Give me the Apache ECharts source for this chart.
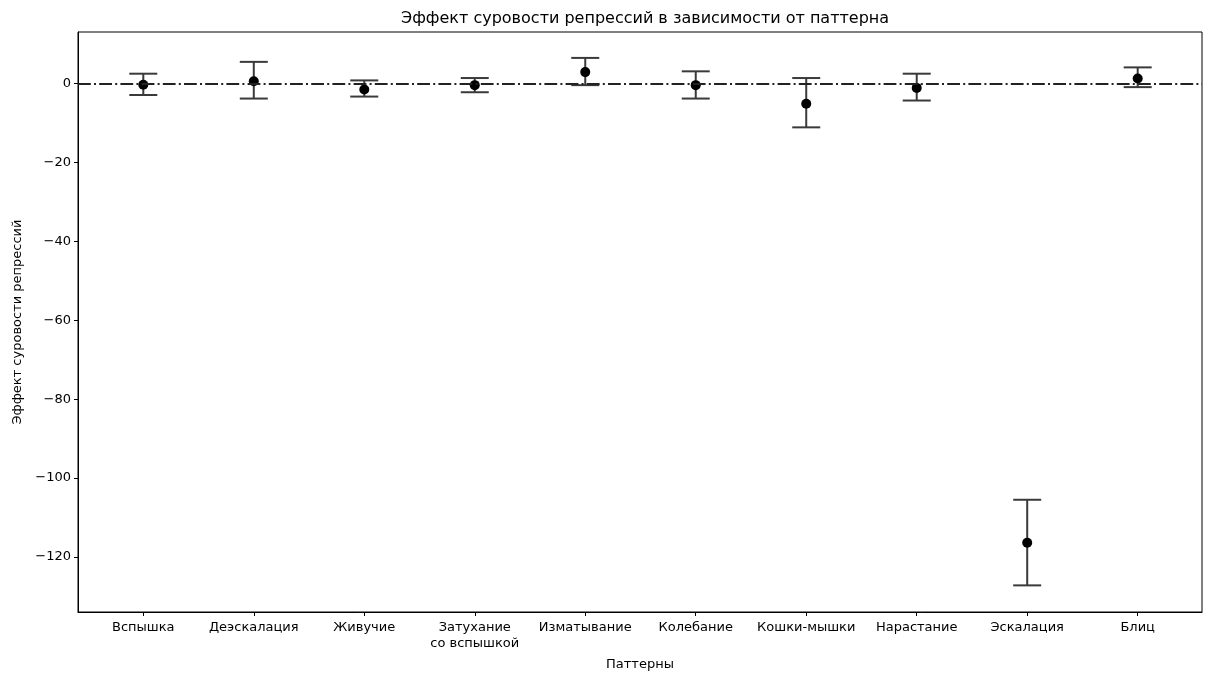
<!DOCTYPE html>
<html>
<head>
<meta charset="utf-8">
<script src="https://cdn.jsdelivr.net/npm/echarts@6/dist/echarts.min.js"></script>
<style>
  html, body { margin: 0; padding: 0; background: #fff; }
  #chart { width: 1205px; height: 676px; }
</style>
</head>
<body>
<div id="chart"></div>
<script>
// паттерны и оценки эффекта (точка + доверительный интервал)
const categories = ['Вспышка', 'Деэскалация', 'Живучие', 'Затухание\nсо вспышкой', 'Изматывание',
  'Колебание', 'Кошки-мышки', 'Нарастание', 'Эскалация', 'Блиц']
const means = [-0.3, 0.6, -1.5, -0.4, 2.9, -0.4, -5.1, -1.1, -116.4, 1.3]
const lows = [-2.9, -3.8, -3.3, -2.2, -0.4, -3.8, -11.1, -4.3, -127.2, -0.9]
const highs = [2.5, 5.5, 0.8, 1.4, 6.5, 3.1, 1.4, 2.5, -105.5, 4.1]
const yTicks = [0, -20, -40, -60, -80, -100, -120]
const xTicks = categories.map((c, i) => i)

const font = 'DejaVu Sans'
const barColor = '#3a3a3a'

const chart = echarts.init(document.getElementById('chart'))

function renderErrorBar(params, api) {
  const x = api.value(0)
  const top = api.coord([x, api.value(2)])
  const bot = api.coord([x, api.value(1)])
  const half = 14
  const style = { stroke: barColor, lineWidth: 2 }
  return {
    type: 'group',
    children: [
      { type: 'line', shape: { x1: top[0], y1: top[1], x2: bot[0], y2: bot[1] }, style },
      { type: 'line', shape: { x1: top[0] - half, y1: top[1], x2: top[0] + half, y2: top[1] }, style },
      { type: 'line', shape: { x1: bot[0] - half, y1: bot[1], x2: bot[0] + half, y2: bot[1] }, style }
    ]
  }
}

chart.setOption({
  animation: false,
  title: {
    text: 'Эффект суровости репрессий в зависимости от паттерна',
    left: 640,
    top: 6,
    textAlign: 'center',
    textStyle: { fontFamily: font, fontSize: 16, fontWeight: 'normal', color: '#000' }
  },
  grid: {
    left: 78,
    right: 3,
    top: 32,
    bottom: 59,
    show: true,
    borderColor: '#000',
    borderWidth: 1
  },
  xAxis: {
    type: 'value',
    min: -0.591,
    max: 9.582,
    name: 'Паттерны',
    nameLocation: 'middle',
    nameGap: 46,
    nameTextStyle: { fontFamily: font, fontSize: 13, color: '#000' },
    axisLine: { onZero: false, lineStyle: { color: '#000' } },
    axisTick: { customValues: xTicks, length: 4, lineStyle: { color: '#000' } },
    axisLabel: {
      customValues: xTicks,
      formatter: v => categories[Math.round(v)],
      fontFamily: font,
      fontSize: 13,
      color: '#000',
      margin: 8,
      lineHeight: 16
    },
    splitLine: { show: false }
  },
  yAxis: {
    type: 'value',
    min: -133.95,
    max: 13.07,
    name: 'Эффект суровости репрессий',
    nameLocation: 'middle',
    nameGap: 54,
    nameRotate: 90,
    nameTextStyle: { fontFamily: font, fontSize: 13, color: '#000' },
    axisLine: { show: true, onZero: false, lineStyle: { color: '#000' } },
    axisTick: { show: true, customValues: yTicks, length: 4, lineStyle: { color: '#000' } },
    axisLabel: {
      customValues: yTicks,
      formatter: v => String(v).replace('-', '\u2212'),
      fontFamily: font,
      fontSize: 13,
      color: '#000',
      margin: 7
    },
    splitLine: { show: false }
  },
  series: [
    {
      type: 'custom',
      renderItem: renderErrorBar,
      data: xTicks.map(i => [i, lows[i], highs[i]]),
      z: 3,
      markLine: {
        silent: true,
        symbol: 'none',
        label: { show: false },
        lineStyle: { color: '#222', width: 2, type: [12.8, 3.2, 2, 3.2], opacity: 1 },
        data: [{ yAxis: 0 }]
      }
    },
    {
      type: 'scatter',
      data: xTicks.map(i => [i, means[i]]),
      symbol: 'circle',
      symbolSize: 10,
      itemStyle: { color: '#000', opacity: 1 },
      z: 4
    }
  ]
})
</script>
</body>
</html>
